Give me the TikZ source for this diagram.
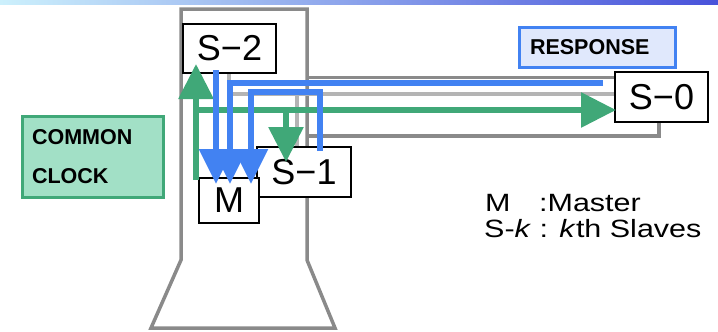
\documentclass[tikz,border=0pt]{standalone}
\usepackage{fontspec}
\setmainfont{Liberation Sans}
\usetikzlibrary{arrows.meta,calc}
\definecolor{topL}{HTML}{CCF0FC}
\definecolor{topR}{HTML}{4852DA}
\definecolor{framegray}{HTML}{8A8A8A}
\definecolor{lightgray2}{HTML}{B4B4B4}
\definecolor{clockgreen}{HTML}{40A878}
\definecolor{clockfill}{HTML}{A2E0C6}
\definecolor{respblue}{HTML}{4282F2}
\definecolor{respfill}{HTML}{E0E8FC}
\tikzset{
  unitbox/.style={draw=black, line width=2pt, fill=white, inner sep=0pt,
    font=\fontsize{36}{40}\selectfont},
  labelbox/.style={line width=3pt, inner xsep=10pt, inner ysep=0pt, align=left,
    font=\bfseries\fontsize{21.5}{39}\selectfont},
  framestyle/.style={draw=framegray, line width=3.5pt, line join=miter},
  armstyle/.style={draw=framegray, line width=3.5pt},
  lgstyle/.style={draw=lightgray2, line width=4pt},
  greenarrow/.style={draw=clockgreen, line width=6pt,
    -{Triangle[length=35pt,width=34pt]}},
  bluearrow/.style={draw=respblue, line width=6pt, line join=miter,
    -{Triangle[length=35pt,width=33pt]}},
  legendtext/.style={inner sep=0pt, font=\fontsize{25}{28}\selectfont},
}
\begin{document}
\begin{tikzpicture}[x=1pt,y=-1pt]
\useasboundingbox (0,0) rectangle (718,332);
% top gradient bar
\shade[left color=topL, right color=topR] (0,0) rectangle (718,4.5);

% tower frame
\draw[framestyle] (307,260) -- (307,9) -- (181,9) -- (181,260) -- (151,328) -- (335,328) -- cycle;

% boxes (positions)
\node[unitbox, minimum width=93pt, minimum height=49pt] (s2) at (229.5,48.5) {S−2};
\node[unitbox, minimum width=94pt, minimum height=50pt] (s1) at (304,172) {S−1};
\node[unitbox, minimum width=93pt, minimum height=50pt] (s0) at (661.5,97) {S−0};

% gray arm to S-0
\coordinate (armT) at (307,77.5);
\coordinate (armB) at (307,136);
\coordinate (armBx) at (659,136);
\draw[armstyle] (armT) -- (armT -| s0.west);
\draw[armstyle] (armB) -- (armBx) -- (armBx |- s0.south);

% light gray bus
\coordinate (lg) at (229,94);
\coordinate (lg1) at (297,94);
\draw[lgstyle] (s2.south -| lg) -- (lg) -- (lg -| s0.west);
\draw[lgstyle] (lg1) -- (lg1 |- s1.north);

% redraw boxes on top of bus lines
\node[unitbox, minimum width=93pt, minimum height=49pt] at (s2) {S−2};
\node[unitbox, minimum width=94pt, minimum height=50pt] at (s1) {S−1};
\node[unitbox, minimum width=93pt, minimum height=50pt] at (s0) {S−0};
\node[unitbox, minimum width=60pt, minimum height=45pt] (m) at (229,200.5) {M};

% label boxes
\node[labelbox, draw=respblue, fill=respfill, minimum width=156pt, minimum height=40pt,
  text width=134pt, inner xsep=11pt] (resp) at (597,47) {RESPONSE};
\node[labelbox, draw=clockgreen, fill=clockfill, minimum width=141pt, minimum height=81pt,
  text width=121pt] (clock) at (92.5,156.5) {COMMON\\CLOCK};

% green clock lines
\coordinate (g0) at (196,180);
\coordinate (g1) at (193,110);
\coordinate (g2) at (286,110);
\draw[greenarrow] (g0) -- ($(s2.south -| g0)+(0,-10)$);
\draw[greenarrow] (g1) -- ($(g1 -| s0.west)+(2,0)$);
\draw[greenarrow] (g2) -- ($(g2 |- s1.north)+(0,16)$);

% blue response lines
\coordinate (b1) at (216,0);
\coordinate (b2) at (230,83);
\coordinate (b3) at (251,92);
\coordinate (b3r) at (320,92);
\draw[bluearrow] ($(s2.south -| b1)+(0,-4)$) -- ($(m.north -| b1)+(0,7)$);
\draw[bluearrow] ($(b2 -| s0.west)+(-11,0)$) -- (b2) -- ($(m.north -| b2)+(0,7)$);
\draw[bluearrow] ($(s1.north -| b3r)+(0,5)$) -- (b3r) -- (b3) -- ($(m.north -| b3)+(0,7)$);

% legend
\node[legendtext, anchor=base west] (lgm) at (485,211) {\scalebox{1.22}[1]{M\hspace{23.4pt}:Master}};
\node[legendtext, anchor=base west] (lgs) at (484,237) {\scalebox{1.22}[1]{S-\textit{k} : \textit{k}th Slaves}};
\end{tikzpicture}
\end{document}
